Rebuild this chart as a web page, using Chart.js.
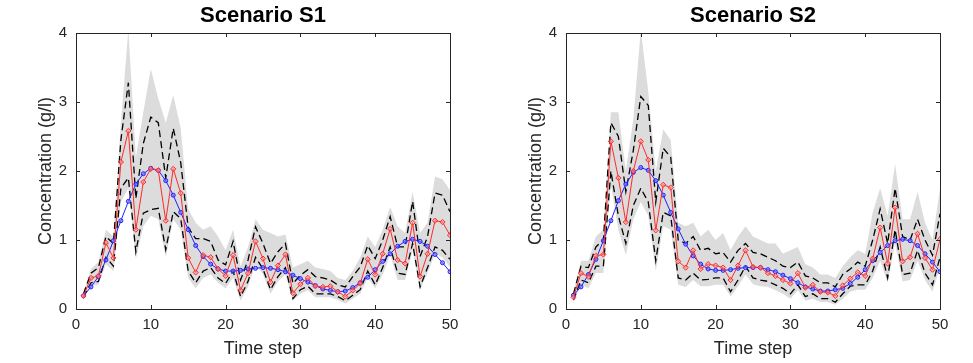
<!DOCTYPE html>
<html>
<head>
<meta charset="utf-8">
<script src="https://cdn.jsdelivr.net/npm/chart.js@4/dist/chart.umd.min.js"></script>
<style>
    body { margin: 0; background: #fff; }
    .panel { position: absolute; top: 0; height: 363px; }
    #p1 { left: 0; width: 490px; }
    #p2 { left: 490px; width: 483px; }
</style>
</head>
<body>
<div class="panel" id="p1"><canvas id="chart1"></canvas></div>
<div class="panel" id="p2"><canvas id="chart2"></canvas></div>
<script>
// Time steps
const steps = [1, 2, 3, 4, 5, 6, 7, 8, 9, 10, 11, 12, 13, 14, 15, 16, 17, 18, 19, 20,
    21, 22, 23, 24, 25, 26, 27, 28, 29, 30, 31, 32, 33, 34, 35, 36, 37, 38, 39, 40,
    41, 42, 43, 44, 45, 46, 47, 48, 49, 50];
const xTicks = [0, 10, 20, 30, 40, 50];
const yTicks = [0, 1, 2, 3, 4];

// Scenario S1
const s1True = [0.19, 0.32, 0.47, 0.71, 0.99, 1.28, 1.56, 1.81, 1.96, 2.04, 2.01, 1.86, 1.65, 1.40, 1.15, 0.92, 0.76, 0.65, 0.58, 0.55,
    0.55, 0.56, 0.58, 0.59, 0.60, 0.59, 0.57, 0.54, 0.49, 0.44, 0.39, 0.34, 0.29, 0.27, 0.25, 0.26, 0.31, 0.38, 0.46, 0.57,
    0.69, 0.80, 0.91, 0.98, 1.01, 0.98, 0.91, 0.79, 0.67, 0.54];
const s1Est = [0.19, 0.45, 0.48, 0.96, 0.74, 2.13, 2.58, 1.15, 1.84, 2.03, 2.01, 1.28, 2.03, 1.68, 0.74, 0.53, 0.78, 0.75, 0.58, 0.48,
    0.78, 0.27, 0.52, 0.98, 0.73, 0.39, 0.63, 0.79, 0.23, 0.36, 0.45, 0.33, 0.32, 0.33, 0.25, 0.18, 0.27, 0.37, 0.72, 0.50,
    0.80, 1.16, 0.71, 0.66, 1.25, 0.47, 0.80, 1.28, 1.26, 1.07];
const s1Upper = [0.22, 0.52, 0.60, 1.05, 0.95, 2.45, 3.28, 1.60, 2.40, 2.78, 2.70, 1.90, 2.62, 2.12, 1.18, 1.02, 1.02, 0.98, 0.71, 0.64,
    0.98, 0.42, 0.71, 1.19, 0.95, 0.66, 0.83, 0.95, 0.37, 0.49, 0.57, 0.47, 0.45, 0.42, 0.35, 0.32, 0.47, 0.61, 0.92, 0.73,
    1.00, 1.34, 0.90, 0.90, 1.56, 0.76, 1.05, 1.68, 1.65, 1.41];
const s1Lower = [0.17, 0.38, 0.40, 0.75, 0.62, 1.75, 1.90, 0.83, 1.39, 1.44, 1.46, 0.86, 1.41, 1.31, 0.55, 0.38, 0.55, 0.60, 0.45, 0.37,
    0.55, 0.18, 0.40, 0.75, 0.58, 0.28, 0.47, 0.60, 0.15, 0.28, 0.33, 0.22, 0.22, 0.22, 0.18, 0.12, 0.20, 0.28, 0.55, 0.35,
    0.60, 0.90, 0.52, 0.50, 0.95, 0.32, 0.60, 0.90, 0.85, 0.72];
const s1BandHi = [0.25, 0.58, 0.68, 1.15, 1.05, 2.70, 4.05, 2.20, 2.85, 3.48, 3.05, 2.70, 3.10, 2.62, 1.45, 1.25, 1.15, 1.20, 1.05, 0.85,
    1.15, 0.62, 0.90, 1.30, 1.15, 1.10, 1.05, 1.08, 0.60, 0.65, 0.70, 0.60, 0.58, 0.55, 0.45, 0.42, 0.55, 0.75, 1.05, 0.90,
    1.15, 1.48, 1.20, 1.10, 1.70, 1.10, 1.25, 1.92, 1.88, 1.72];
const s1BandLo = [0.15, 0.33, 0.35, 0.65, 0.55, 1.55, 1.75, 0.72, 1.20, 1.35, 1.30, 0.75, 1.30, 1.15, 0.45, 0.30, 0.45, 0.50, 0.38, 0.30,
    0.45, 0.12, 0.32, 0.65, 0.50, 0.22, 0.40, 0.50, 0.12, 0.22, 0.27, 0.17, 0.17, 0.17, 0.13, 0.08, 0.15, 0.22, 0.45, 0.30,
    0.50, 0.78, 0.42, 0.42, 0.85, 0.28, 0.52, 0.80, 0.75, 0.60];

// Scenario S2
const s2True = [0.20, 0.32, 0.50, 0.72, 0.99, 1.28, 1.57, 1.81, 1.98, 2.05, 2.01, 1.86, 1.65, 1.40, 1.16, 0.94, 0.77, 0.65, 0.58, 0.56,
    0.56, 0.57, 0.59, 0.60, 0.60, 0.60, 0.57, 0.54, 0.49, 0.44, 0.38, 0.32, 0.29, 0.26, 0.26, 0.28, 0.30, 0.37, 0.46, 0.57,
    0.70, 0.82, 0.92, 0.99, 1.01, 0.99, 0.92, 0.80, 0.68, 0.54];
const s2Est = [0.17, 0.52, 0.47, 0.77, 0.79, 2.43, 1.90, 1.26, 2.00, 2.43, 2.16, 1.14, 1.80, 1.76, 0.69, 0.60, 0.85, 0.58, 0.65, 0.63,
    0.60, 0.42, 0.63, 0.85, 0.61, 0.60, 0.52, 0.48, 0.42, 0.37, 0.52, 0.31, 0.35, 0.25, 0.24, 0.19, 0.34, 0.44, 0.53, 0.48,
    0.73, 1.18, 0.66, 1.47, 0.69, 0.75, 1.09, 0.74, 0.57, 1.01];
const s2Upper = [0.22, 0.62, 0.60, 0.90, 1.00, 2.70, 2.50, 1.70, 2.30, 3.08, 2.95, 1.55, 2.33, 2.20, 1.00, 0.95, 1.05, 0.85, 0.88, 0.80,
    0.82, 0.68, 0.85, 0.95, 0.82, 0.80, 0.75, 0.70, 0.62, 0.60, 0.68, 0.48, 0.45, 0.38, 0.38, 0.32, 0.50, 0.58, 0.68, 0.62,
    1.00, 1.45, 0.95, 1.75, 1.05, 1.00, 1.30, 1.00, 0.78, 1.38];
const s2Lower = [0.13, 0.42, 0.38, 0.62, 0.62, 2.00, 1.35, 0.95, 1.50, 1.75, 1.55, 0.70, 1.40, 1.35, 0.45, 0.42, 0.52, 0.42, 0.43, 0.45,
    0.45, 0.25, 0.42, 0.62, 0.45, 0.42, 0.40, 0.35, 0.30, 0.22, 0.35, 0.18, 0.22, 0.15, 0.15, 0.10, 0.22, 0.33, 0.35, 0.35,
    0.55, 0.90, 0.45, 1.15, 0.50, 0.52, 0.85, 0.52, 0.35, 0.75];
const s2BandHi = [0.25, 0.70, 0.70, 1.05, 1.15, 2.85, 2.85, 2.00, 2.75, 4.05, 3.15, 2.00, 2.60, 2.45, 1.25, 1.20, 1.25, 1.05, 1.15, 1.00,
    1.10, 0.85, 1.05, 1.20, 1.05, 1.00, 0.95, 0.95, 0.80, 0.85, 0.90, 0.65, 0.60, 0.50, 0.50, 0.45, 0.62, 0.75, 0.85, 0.80,
    1.40, 1.75, 1.35, 2.10, 1.30, 1.30, 1.70, 1.25, 1.00, 1.75];
const s2BandLo = [0.10, 0.35, 0.30, 0.52, 0.52, 1.80, 1.15, 0.78, 1.30, 1.55, 1.35, 0.55, 1.20, 1.15, 0.35, 0.32, 0.42, 0.33, 0.33, 0.35,
    0.35, 0.18, 0.33, 0.50, 0.36, 0.33, 0.32, 0.27, 0.22, 0.15, 0.27, 0.12, 0.15, 0.10, 0.10, 0.06, 0.15, 0.25, 0.28, 0.28,
    0.45, 0.70, 0.38, 0.95, 0.40, 0.42, 0.70, 0.42, 0.25, 0.60];

const FONT = "'Liberation Sans', Arial, Helvetica, sans-serif";
const AXIS_COLOR = '#262626';

function pts(values) {
    return steps.map((t, i) => ({ x: t, y: values[i] }));
}

// Box around the plot, inward ticks and the panel title (MATLAB look)
const boxPlugin = {
    id: 'box',
    afterDatasetsDraw(chart, args, opts) {
        const { ctx, chartArea: a, scales } = chart;
        ctx.save();
        ctx.strokeStyle = AXIS_COLOR;
        ctx.lineWidth = 1;
        ctx.strokeRect(Math.round(a.left) + 0.5, Math.round(a.top) + 0.5,
            Math.round(a.right - a.left), Math.round(a.bottom - a.top));
        ctx.beginPath();
        xTicks.forEach(v => {
            const x = Math.round(scales.x.getPixelForValue(v)) + 0.5;
            ctx.moveTo(x, a.bottom); ctx.lineTo(x, a.bottom - 4);
            ctx.moveTo(x, a.top); ctx.lineTo(x, a.top + 4);
        });
        yTicks.forEach(v => {
            const y = Math.round(scales.y.getPixelForValue(v)) + 0.5;
            ctx.moveTo(a.left, y); ctx.lineTo(a.left + 4, y);
            ctx.moveTo(a.right, y); ctx.lineTo(a.right - 4, y);
        });
        ctx.stroke();
        ctx.fillStyle = '#000';
        ctx.font = 'bold 22px ' + FONT;
        ctx.textAlign = 'center';
        ctx.textBaseline = 'middle';
        ctx.fillText(opts.text, (a.left + a.right) / 2, 16);
        ctx.restore();
    }
};

function makeChart(id, title, rightPad, trueVals, estVals, upper, lower, bandHi, bandLo) {
    const ctx = document.getElementById(id).getContext('2d');
    const dashed = {
        borderColor: '#000',
        borderWidth: 1.3,
        borderDash: [7, 4],
        pointRadius: 0,
        fill: false,
        order: 2
    };
    new Chart(ctx, {
        type: 'line',
        data: {
            datasets: [
                {
                    label: 'band max',
                    data: pts(bandHi),
                    borderWidth: 0,
                    borderColor: 'rgba(0,0,0,0)',
                    backgroundColor: '#dcdcdc',
                    pointRadius: 0,
                    fill: '+1',
                    order: 3
                },
                {
                    label: 'band min',
                    data: pts(bandLo),
                    borderWidth: 0,
                    borderColor: 'rgba(0,0,0,0)',
                    pointRadius: 0,
                    fill: false,
                    order: 3
                },
                Object.assign({ label: 'upper', data: pts(upper) }, dashed),
                Object.assign({ label: 'lower', data: pts(lower) }, dashed),
                {
                    label: 'true',
                    data: pts(trueVals),
                    borderColor: '#2020ff',
                    borderWidth: 1,
                    pointStyle: 'circle',
                    pointRadius: 2,
                    pointBorderWidth: 1,
                    pointBorderColor: '#2020ff',
                    pointBackgroundColor: 'rgba(120,120,255,0.6)',
                    fill: false,
                    order: 1
                },
                {
                    label: 'estimate',
                    data: pts(estVals),
                    borderColor: '#ff2a2a',
                    borderWidth: 1,
                    pointStyle: 'rectRot',
                    pointRadius: 2.6,
                    pointBorderWidth: 1,
                    pointBorderColor: '#ff2a2a',
                    pointBackgroundColor: 'rgba(255,150,150,0.5)',
                    fill: false,
                    order: 0
                }
            ]
        },
        options: {
            responsive: true,
            maintainAspectRatio: false,
            animation: false,
            layout: { padding: { top: 33, right: rightPad, bottom: 0, left: 0 } },
            plugins: {
                legend: { display: false },
                tooltip: { enabled: false },
                box: { text: title }
            },
            scales: {
                x: {
                    type: 'linear',
                    min: 0,
                    max: 50,
                    grid: { display: false, drawTicks: false },
                    border: { display: false },
                    afterBuildTicks: scale => { scale.ticks = xTicks.map(v => ({ value: v })); },
                    afterFit: scale => { scale.height = 54; },
                    ticks: {
                        padding: 7,
                        color: AXIS_COLOR,
                        font: { family: FONT, size: 15 }
                    },
                    title: {
                        display: true,
                        text: 'Time step',
                        color: AXIS_COLOR,
                        padding: { top: 0, bottom: 3 },
                        font: { family: FONT, size: 18 }
                    }
                },
                y: {
                    min: 0,
                    max: 4,
                    grid: { display: false, drawTicks: false },
                    border: { display: false },
                    afterBuildTicks: scale => { scale.ticks = yTicks.map(v => ({ value: v })); },
                    afterFit: scale => { scale.width = 76; },
                    ticks: {
                        padding: 9,
                        color: AXIS_COLOR,
                        font: { family: FONT, size: 15 }
                    },
                    title: {
                        display: true,
                        text: 'Concentration (g/l)',
                        color: AXIS_COLOR,
                        padding: { top: 35, bottom: 0 },
                        font: { family: FONT, size: 18 }
                    }
                }
            }
        },
        plugins: [boxPlugin]
    });
}

makeChart('chart1', 'Scenario S1', 40, s1True, s1Est, s1Upper, s1Lower, s1BandHi, s1BandLo);
makeChart('chart2', 'Scenario S2', 33, s2True, s2Est, s2Upper, s2Lower, s2BandHi, s2BandLo);
</script>
</body>
</html>
